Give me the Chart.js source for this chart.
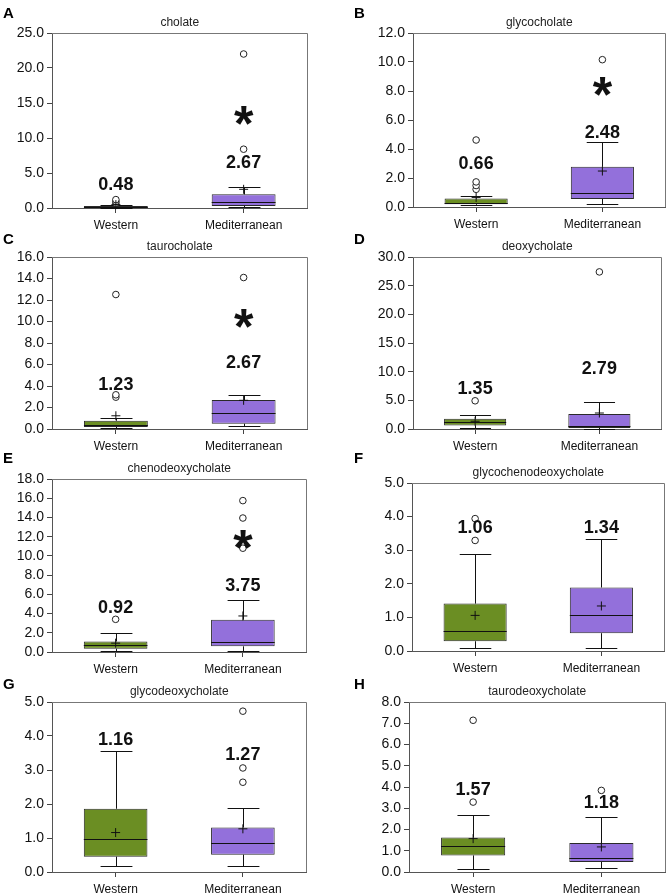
<!DOCTYPE html>
<html><head><meta charset="utf-8">
<script src="https://cdn.jsdelivr.net/npm/chart.js@4/dist/chart.umd.min.js"></script>
<style>
html,body{margin:0;padding:0;background:#fff;}
body{width:672px;height:895px;position:relative;overflow:hidden;font-family:"Liberation Sans",Arial,sans-serif;}
.panel{position:absolute;}
.letter{position:absolute;font-weight:bold;font-size:15px;line-height:16px;color:#000;}
</style></head><body>
<script>
// ---------- data ----------
const groups = ['Western', 'Mediterranean'];
const panelLetters = ['A','B','C','D','E','F','G','H'];
const panelTitles = ['cholate','glycocholate','taurocholate','deoxycholate','chenodeoxycholate','glycochenodeoxycholate','glycodeoxycholate','taurodeoxycholate'];
const yMax  = [25, 12, 16, 30, 18, 5, 5, 8];
const yStep = [5, 2, 2, 5, 2, 1, 1, 1];
// per panel: [Western, Mediterranean]
const q1          = [[0.05,0.30],[0.19,0.55],[0.19,0.49],[0.63,0.17],[0.34,0.59],[0.29,0.53],[0.45,0.51],[0.78,0.47]];
const median      = [[0.12,0.80],[0.30,1.00],[0.35,1.51],[1.22,0.45],[0.69,1.07],[0.59,1.08],[0.98,0.84],[1.21,0.64]];
const q3          = [[0.30,1.95],[0.58,2.77],[0.77,2.69],[1.80,2.60],[1.10,3.36],[1.41,1.89],[1.86,1.31],[1.62,1.36]];
const whiskerLow  = [[0.02,0.10],[0.15,0.19],[0.10,0.25],[0.10,0.05],[0.14,0.14],[0.10,0.10],[0.17,0.17],[0.13,0.17]];
const whiskerHigh = [[0.45,3.05],[0.75,4.50],[0.98,3.20],[2.49,4.63],[1.98,5.44],[2.88,3.33],[3.55,1.88],[2.68,2.59]];
const means       = [[0.48,2.67],[0.66,2.48],[1.23,2.67],[1.35,2.79],[0.92,3.75],[1.06,1.34],[1.16,1.27],[1.57,1.18]];
const outliers    = [
  [[0.70,0.95,1.20],[8.4,22.0]],
  [[1.22,1.48,1.73,4.62],[10.16]],
  [[2.96,3.18,12.51],[14.09]],
  [[4.92],[27.4]],
  [[3.40],[10.8,13.94,15.75]],
  [[3.29,3.94],[]],
  [[],[2.64,3.06,4.73]],
  [[3.29,7.14],[3.84]]
];
// value at which each mean label is written, and the significance star (null = none)
const meanLabelAt = [[3.3,6.4],[2.96,5.08],[4.1,6.17],[6.95,10.47],[4.58,6.83],[3.65,3.65],[3.87,3.43],[3.84,3.25]];
const starAt      = [13.6, 8.55, 10.6, null, 12.03, null, null, null];

// ---------- layout ----------
const FONT = '"Liberation Sans", Arial, sans-serif';
const boxColors = ['#6b8e23', '#9370db'];
const AXIS_W = 52, TOP_PAD = 26, XAX_H = 30, RIGHT_PAD = 1;
const areas = [[52,33,312,208],[413,33,670,207],[52,257,312,429],[413,257,666,429],
               [52,479,311,652],[412,483,669,651],[52,702,311,872],[409,702,670,872]];
const letterPos = [[3,5],[354,5],[3,231],[354,231],[3,450],[354,450],[3,676],[354,676]];

const boxExtras = {
  id: 'boxExtras',
  afterDatasetDraw(chart, args, opts) {
    if (args.index !== 0) return;
    const p = opts.panel, ctx = chart.ctx, y = chart.scales.y;
    const meta = chart.getDatasetMeta(0);
    ctx.save();
    ctx.strokeStyle = '#111'; ctx.lineWidth = 1;
    meta.data.forEach((bar, i) => {
      const cx = Math.round(bar.x) + 0.5, half = bar.width / 2, cap = bar.width / 4;
      const yq1 = y.getPixelForValue(q1[p][i]), yq3 = y.getPixelForValue(q3[p][i]);
      const ylo = Math.round(y.getPixelForValue(whiskerLow[p][i])) + 0.5;
      const yhi = Math.round(y.getPixelForValue(whiskerHigh[p][i])) + 0.5;
      const ym = Math.round(y.getPixelForValue(median[p][i])) + 0.5;
      ctx.beginPath();
      ctx.moveTo(cx, yq3); ctx.lineTo(cx, yhi);
      ctx.moveTo(cx - cap, yhi); ctx.lineTo(cx + cap, yhi);
      ctx.moveTo(cx, yq1); ctx.lineTo(cx, ylo);
      ctx.moveTo(cx - cap, ylo); ctx.lineTo(cx + cap, ylo);
      ctx.moveTo(bar.x - half, ym); ctx.lineTo(bar.x + half, ym);
      ctx.stroke();
    });
    ctx.restore();
  },
  afterDraw(chart, args, opts) {
    const p = opts.panel, ctx = chart.ctx, a = chart.chartArea;
    const x = chart.scales.x, y = chart.scales.y;
    ctx.save();
    // frame top/right
    ctx.strokeStyle = '#777'; ctx.lineWidth = 1;
    ctx.beginPath();
    ctx.moveTo(a.left, Math.round(a.top) + 0.5); ctx.lineTo(Math.round(a.right) - 0.5, Math.round(a.top) + 0.5);
    ctx.lineTo(Math.round(a.right) - 0.5, a.bottom);
    ctx.stroke();
    // title
    ctx.fillStyle = '#222';
    ctx.font = '12px ' + FONT;
    ctx.textAlign = 'center'; ctx.textBaseline = 'middle';
    ctx.fillText(panelTitles[p], (a.left + a.right) / 2, a.top - 10);
    // mean labels
    ctx.fillStyle = '#111';
    ctx.font = 'bold 18px ' + FONT;
    groups.forEach((g, i) => {
      ctx.fillText(means[p][i].toFixed(2), x.getPixelForValue(i), y.getPixelForValue(meanLabelAt[p][i]));
    });
    // star
    if (starAt[p] !== null) {
      const sz = 50;
      ctx.font = 'bold ' + sz + 'px ' + FONT;
      ctx.textBaseline = 'alphabetic';
      ctx.fillText('*', x.getPixelForValue(1), y.getPixelForValue(starAt[p]) + 0.57 * sz);
    }
    ctx.restore();
  }
};

areas.forEach((ar, p) => {
  const [L, T, R, B] = ar;
  const w = (R - L) + AXIS_W + RIGHT_PAD, h = (B - T) + TOP_PAD + XAX_H;
  const div = document.createElement('div');
  div.className = 'panel';
  div.style.left = (L - AXIS_W) + 'px'; div.style.top = (T - TOP_PAD) + 'px';
  div.style.width = w + 'px'; div.style.height = h + 'px';
  const c = document.createElement('canvas');
  c.width = w; c.height = h; c.style.width = w + 'px'; c.style.height = h + 'px';
  div.appendChild(c);
  document.body.appendChild(div);

  const lt = document.createElement('div');
  lt.className = 'letter';
  lt.textContent = panelLetters[p];
  lt.style.left = letterPos[p][0] + 'px'; lt.style.top = letterPos[p][1] + 'px';
  document.body.appendChild(lt);

  const outPts = [];
  groups.forEach((g, i) => outliers[p][i].forEach(v => outPts.push({ x: g, y: v })));

  new Chart(c, {
    type: 'bar',
    data: {
      labels: groups,
      datasets: [
        { type: 'bar', label: 'box', data: groups.map((g, i) => [q1[p][i], q3[p][i]]),
          backgroundColor: boxColors, borderColor: '#2a2a2a', borderWidth: 1, borderSkipped: false,
          barPercentage: 0.5, categoryPercentage: 1, order: 2 },
        { type: 'line', label: 'mean', data: groups.map((g, i) => ({ x: g, y: means[p][i] })),
          showLine: false, pointStyle: 'cross', pointRadius: 4.5, borderColor: '#111', borderWidth: 1, order: 0, clip: false },
        { type: 'line', label: 'outliers', data: outPts, showLine: false, pointStyle: 'circle',
          pointRadius: 3.3, borderColor: '#222', backgroundColor: '#fff', borderWidth: 1, order: 1, clip: false }
      ]
    },
    options: {
      responsive: false, animation: false, events: [],
      layout: { padding: { top: TOP_PAD, right: RIGHT_PAD, left: 0, bottom: 0 } },
      plugins: { legend: { display: false }, tooltip: { enabled: false }, title: { display: false }, boxExtras: { panel: p } },
      scales: {
        x: { type: 'category', offset: true,
             grid: { display: true, drawOnChartArea: false, offset: false, tickLength: 5, color: '#444' },
             border: { color: '#555' },
             ticks: { color: '#111', font: { size: 12, family: FONT }, padding: 5, maxRotation: 0 },
             afterFit(s) { s.height = XAX_H; } },
        y: { min: 0, max: yMax[p],
             ticks: { stepSize: yStep[p], autoSkip: false, callback: v => v.toFixed(1), color: '#111', font: { size: 14, family: FONT }, padding: 3 },
             grid: { drawOnChartArea: false, tickLength: 5, color: '#444' },
             border: { color: '#555' },
             afterFit(s) { s.width = AXIS_W; } }
      }
    },
    plugins: [boxExtras]
  });
});
</script>
</body></html>
